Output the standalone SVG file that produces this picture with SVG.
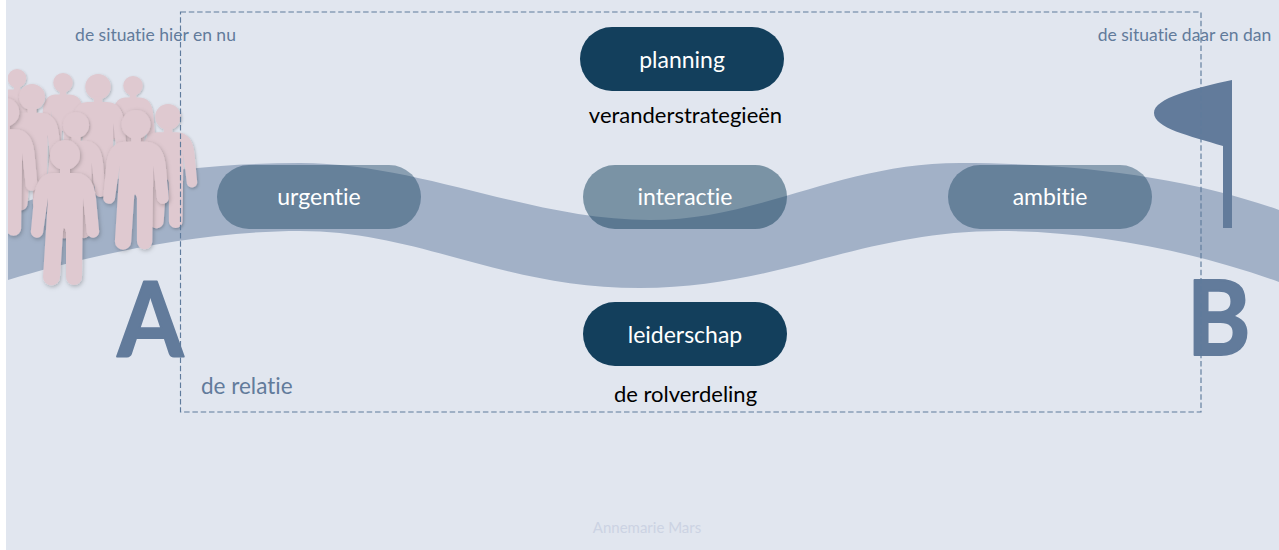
<svg xmlns="http://www.w3.org/2000/svg" width="1279" height="550" viewBox="0 0 1279 550">
<style>
text{font-family:"Lato","Liberation Sans",sans-serif;font-variant-ligatures:none}
.m{text-anchor:middle}
.pl{fill:#fff;font-size:23px}
.bl{fill:#627b9b}
.dark{fill:#133f5c}
.soft{fill:#143f5c;fill-opacity:.42}
.softer{fill:#143f5c;fill-opacity:.5}
.cap{fill:#000;font-size:22px}
.big{fill:#627b9b;font-weight:700;font-size:103px;stroke:#627b9b;stroke-width:2;stroke-linejoin:round}
</style>
<defs>
<filter id="sh" x="-30%" y="-20%" width="170%" height="150%"><feDropShadow dx="1" dy="1.500" stdDeviation="2" flood-color="#000" flood-opacity=".25"/></filter>
<clipPath id="cl"><rect x="8" y="0" width="220" height="320"/></clipPath>
<g id="person" fill="#dfc9d0" filter="url(#sh)">
<circle cx="0" cy="15" r="15"/>
<rect x="-5" y="27" width="10" height="8"/>
<path d="M-12,33 H10 C25,33 30,46 31,58 L34,90 A6,6 0 0 1 22,93 L18,58 L17,137 A8,8 0 0 1 1,137 L1,92 Q0,88 -1,88 Q-2,88 -2,92 L-5,137 A8.500,8.500 0 0 1 -22,137 L-17,58 L-22,93 A6,6 0 0 1 -34,90 L-31,58 C-30,46 -25,33 -12,33 Z"/>
</g>
</defs>
<rect x="0" y="0" width="1279" height="550" fill="#fff"/>
<rect x="6" y="0" width="1273" height="550" fill="#e1e6ef"/>
<g id="connectors">
<path id="ribbon" fill="#a2b1c7" d="M8,208 C80,180 190,163 300,163 C420,163 530,220 650,220 C760,220 840,163 960,163 C1080,163 1190,178 1279,210 L1279,282 C1190,250 1090,231 1000,231 C860,231 780,288 640,288 C500,288 420,231 300,231 C200,231 90,255 8,280 Z"/>
</g>
<g id="people" clip-path="url(#cl)">
<use href="#person" transform="translate(17,69) scale(.62)"/>
<use href="#person" transform="translate(63,73) scale(.65)"/>
<use href="#person" transform="translate(133,76) scale(.65)"/>
<use href="#person" transform="translate(98,74) scale(.85)"/>
<use href="#person" transform="translate(32,84) scale(.87)"/>
<use href="#person" transform="translate(5,98) scale(.95)"/>
<use href="#person" transform="translate(168,104) scale(.855)"/>
<use href="#person" transform="translate(76,112) scale(.87)"/>
<use href="#person" transform="translate(136,110) scale(.96)"/>
<use href="#person" transform="translate(65,140)"/>
</g>
<g id="flag"><path class="bl" d="M1232,80 V228 H1223 V146 C1190,136 1154,128 1154,113 C1154,98 1195,88 1232,80 Z"/></g>
<g id="label-a"><text class="big m" transform="translate(150.500,356) scale(.92,1)">A</text></g>
<g id="label-b"><text class="big m" transform="translate(1218.500,355) scale(.94,1)">B</text></g>
<g id="here"><text class="bl m" x="155.500" y="41" font-size="17.500">de situatie hier en nu</text></g>
<g id="there"><text class="bl m" x="1184.500" y="41" font-size="17.500">de situatie daar en dan</text></g>
<g id="relation"><text class="bl" x="201" y="394" font-size="22.500">de relatie</text></g>
<g id="planning"><rect class="dark" x="580" y="27" width="204" height="64" rx="32"/><text class="pl m" x="682" y="68">planning</text></g>
<g id="strategies"><text class="cap m" x="685.500" y="123">veranderstrategieën</text></g>
<g id="urgentie"><rect class="soft" x="217" y="165" width="204" height="64" rx="32"/><text class="pl m" x="319" y="205">urgentie</text></g>
<g id="interactie"><rect class="softer" x="583" y="165" width="204" height="64" rx="32"/><text class="pl m" x="685" y="205">interactie</text></g>
<g id="ambitie"><rect class="soft" x="948" y="165" width="204" height="64" rx="32"/><text class="pl m" x="1050" y="205">ambitie</text></g>
<g id="leiderschap"><rect class="dark" x="583" y="302" width="204" height="64" rx="32"/><text class="pl m" x="685" y="343">leiderschap</text></g>
<g id="roles"><text class="cap m" x="685.500" y="402">de rolverdeling</text></g>
<g id="frame"><rect x="180.500" y="12" width="1020.500" height="400" fill="none" stroke="#5f7b9c" stroke-width="1.150" stroke-dasharray="5.500 2.800"/></g>
<g id="credit"><text class="m" x="647" y="533" font-size="15" fill="#ccd3e3">Annemarie Mars</text></g>
</svg>
